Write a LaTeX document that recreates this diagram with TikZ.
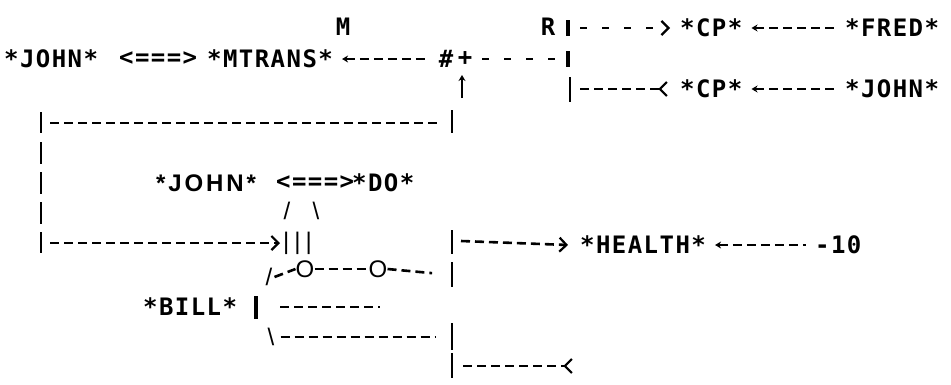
\documentclass[tikz,border=0pt]{standalone}
\usepackage{fontspec}
\usetikzlibrary{arrows.meta,positioning}
\newfontfamily\dotfont[LetterSpace=6]{DejaVu Sans Mono}
\newfontfamily\typefont[LetterSpace=12]{Liberation Sans}
\tikzset{
    chev/.tip={Straight Barb[length=7pt,width=14pt,line width=2.2pt]},
    revchev/.tip={Straight Barb[reversed,length=7pt,width=14pt,line width=2.2pt]},
    head/.tip={Stealth[length=6pt,width=7pt]}
}

\begin{document}
\begin{tikzpicture}[x=1pt,y=-1pt,
    word/.style={font=\dotfont\bfseries\fontsize{24}{26}\selectfont,inner sep=0pt,anchor=west},
    plain/.style={font=\typefont\fontsize{24}{26}\selectfont,inner sep=0pt},
    dashline/.style={line width=2.6pt,dash pattern=on 9pt off 5pt},
    gapline/.style={line width=2.6pt,dash pattern=on 7pt off 15pt},
    larrow/.style={dashline,head-,shorten <=9pt,shorten >=9pt},
    bar/.style={line width=1.3pt},
    thickbar/.style={line width=3.2pt}]
    \useasboundingbox (0,0) rectangle (951,384);

    % MTRANS line with the R bracket
    \node[word,anchor=center] (mmark) at (343,27) {M};
    \node[word,anchor=center] (rmark) at (548,27) {R};
    \node[word] (cpa) at (680,28) {*CP*};
    \node[word] (fred) at (845,28) {*FRED*};
    \node[word] (johna) at (4,59) {*JOHN*};
    \node[word] (twowaya) at (119,59) {<===>};
    \node[word] (mtrans) at (207,59) {*MTRANS*};
    \node[word,anchor=center] (hash) at (446,59) {\#};
    \node[word,anchor=center] (plus) at (465,59) {+};
    \node[word] (cpb) at (680,89) {*CP*};
    \node[word] (johnb) at (845,89) {*JOHN*};
    \coordinate (ra) at (568,28);
    \coordinate (rb) at (568,59);
    \coordinate (rc) at (570,89);

    \draw[thickbar] ([yshift=8pt]ra) -- ([yshift=-8pt]ra);
    \draw[thickbar] ([yshift=8pt]rb) -- ([yshift=-8pt]rb);
    \draw[bar] ([yshift=12pt]rc) -- ([yshift=-13pt]rc);
    \draw[gapline,-chev] ([xshift=12pt]ra) -- ([xshift=-10pt]cpa.west);
    \draw[larrow] (cpa.east) -- (fred.west);
    \draw[larrow] (mtrans.east) -- (hash.west);
    \draw[gapline,shorten <=10pt] (plus.east) -- (rb);
    \draw[dashline,-revchev] ([xshift=10pt]rc) -- ([xshift=-12pt]cpb.west);
    \draw[larrow] (cpb.east) -- (johnb.west);

    % loop back to the plus
    \coordinate (loopl) at (41,123);
    \coordinate (loopr) at (452,123);
    \coordinate (uptail) at (462,98);
    \draw[bar] ([yshift=11pt]loopl) -- ([yshift=-10pt]loopl);
    \draw[bar] ([yshift=13pt]loopr) -- ([yshift=-10pt]loopr);
    \draw[dashline] ([xshift=9pt]loopl) -- ([xshift=-12pt]loopr);
    \draw[line width=2.4pt,-head] (uptail) -- (uptail |- 0,75);
    \coordinate (lefttop) at (41,142);
    \coordinate (loopin) at (41,243);
    \draw[bar,dash pattern=on 22pt off 8pt] (lefttop) -- ([yshift=-10pt]loopin);

    % DO and its instrument
    \node[plain,font=\typefont\bfseries\fontsize{24}{26}\selectfont,anchor=west] (johnc) at (156,183) {*JOHN*};
    \node[word] (twowayb) at (276,183) {<===>};
    \node[word] (do) at (352,183) {*DO*};
    \node[plain] (lslash) at (287,211) {/};
    \node[plain] (rslash) at (316,211) {\textbackslash};
    \node[plain,anchor=west] (prong) at (283,243) {|\hspace{5pt}|\hspace{5pt}|};
    \draw[dashline,-chev] ([xshift=9pt]loopin) -- ([xshift=-3pt]prong.west);

    % HEALTH
    \node[word] (health) at (580,245) {*HEALTH*};
    \node[word] (minus) at (815,245) {-10};
    \coordinate (hbar) at (452,241);
    \draw[bar] ([yshift=11pt]hbar) -- ([yshift=-13pt]hbar);
    \draw[dashline,-chev] ([xshift=9pt]hbar) -- ([xshift=-12pt]health.west);
    \draw[larrow] (health.east) -- (minus.west);

    % objects
    \node[plain] (oslash) at (269,277) {/};
    \node[plain] (oa) at (305,269) {O};
    \node[plain] (ob) at (378,269) {O};
    \coordinate (obar) at (452,275);
    \draw[bar] ([yshift=13pt]obar) -- ([yshift=-12pt]obar);
    \draw[dashline] ([xshift=2pt]oslash.east) -- (oa.west);
    \draw[dashline] (oa.east) -- (ob.west);
    \draw[dashline,shorten >=20pt] (ob.east) -- (obar);

    \node[word] (bill) at (143,307) {*BILL*};
    \coordinate (billbar) at (256,307);
    \coordinate (billend) at (380,307);
    \draw[thickbar] ([yshift=11pt]billbar) -- ([yshift=-12pt]billbar);
    \draw[dashline] ([xshift=24pt]billbar) -- (billend);

    \node[plain] (bslash) at (271,337) {\textbackslash};
    \coordinate (sbar) at (452,337);
    \draw[bar] ([yshift=14pt]sbar) -- ([yshift=-13pt]sbar);
    \draw[dashline,shorten >=16pt] ([xshift=6pt]bslash.east) -- (sbar);

    \coordinate (lastbar) at (452,366);
    \coordinate (lastend) at (573,366);
    \draw[bar] ([yshift=13pt]lastbar) -- ([yshift=-12pt]lastbar);
    \draw[dashline,-revchev] ([xshift=11pt]lastbar) -- (lastend);
\end{tikzpicture}
\end{document}
